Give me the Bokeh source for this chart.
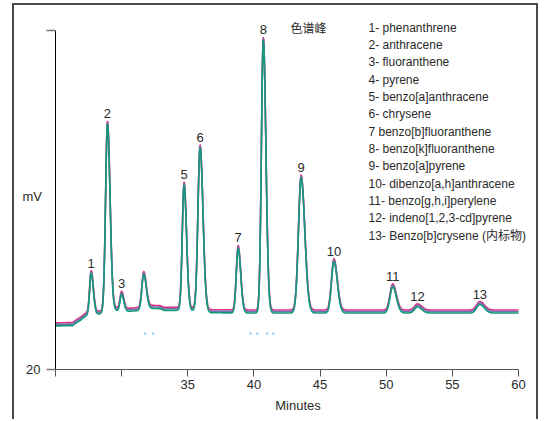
import numpy as np
from bokeh.plotting import figure
from bokeh.models import (ColumnDataSource, Label, LabelSet, FixedTicker, Range1d)
from bokeh.core.properties import value
from bokeh.embed import file_html
from bokeh.resources import INLINE

# ---------------- data ----------------
peak_numbers = ["1", "2", "3", "", "5", "6", "7", "8", "9", "10", "11", "12", "13"]
peak_times = [27.70, 28.93, 30.00, 31.67, 34.72, 35.93, 38.81, 40.71, 43.57, 46.05, 50.49, 52.37, 57.08]
peak_heights = [12.1, 55.4, 4.9, 10.2, 36.9, 48.3, 19.0, 80.4, 39.8, 15.1, 7.7, 1.8, 2.5]
peak_sigmas = [0.14, 0.17, 0.14, 0.165, 0.16, 0.19, 0.165, 0.17, 0.24, 0.22, 0.24, 0.27, 0.29]

baseline_times = [25.0, 26.3, 26.6, 26.9, 27.1, 27.35, 27.6, 28.3, 29.5, 30.5, 31.2, 32.0,
                  32.9, 33.2, 34.3, 35.3, 36.5, 40.0, 60.0]
baseline_mv = [33.3, 33.4, 34.3, 35.0, 35.7, 36.3, 36.6, 36.8, 37.8, 37.6, 37.8, 38.5,
               38.4, 37.9, 37.9, 37.8, 37.2, 37.1, 37.1]

run_offsets = [0.45, 0.0, -0.45]
run_colors = ["#e2307f", "#6a76b2", "#16987a"]

noise_times = [31.77, 32.37, 39.74, 40.26, 41.00, 41.47]
noise_mv = [30.6, 30.6, 30.6, 30.6, 30.6, 30.6]

legend_title = "色谱峰"
legend_entries = [
    "1- phenanthrene",
    "2- anthracene",
    "3- fluoranthene",
    "4- pyrene",
    "5- benzo[a]anthracene",
    "6- chrysene",
    "7 benzo[b]fluoranthene",
    "8- benzo[k]fluoranthene",
    "9- benzo[a]pyrene",
    "10- dibenzo[a,h]anthracene",
    "11- benzo[g,h,i]perylene",
    "12- indeno[1,2,3-cd]pyrene",
    "13- Benzo[b]crysene (内标物)",
]

x_ticks = [25, 30, 35, 40, 45, 50, 55, 60]
x_tick_labels = ["", "", "35", "40", "45", "50", "55", "60"]
y_ticks = [20, 120]
y_tick_labels = ["20", ""]
x_title = "Minutes"
y_title = "mV"

# ---------------- layout (page pixels) ----------------
X0, X1 = 25, 60          # bounded x axis
Y0, Y1 = 20, 120         # bounded y axis
AL, AT, AR, AB = 55, 30, 518, 369   # axis extents on the page
OX, OY = 14, 5           # canvas origin on the page (inside css border)
W, H = 526, 416
PX_X = (AR - AL) / (X1 - X0)
PX_Y = (AB - AT) / (Y1 - Y0)


def t_at(px):
    return X0 + (px - AL) / PX_X


def mv_at(py):
    return Y0 + (AB - py) / PX_Y


frame_left = AL - OX
frame_bottom = AB - OY
x_end = t_at(OX + W)
y_end = mv_at(OY)

font = "Liberation Sans"
legend_font = "Liberation Sans, Noto Sans CJK SC"
cjk = "Noto Sans CJK SC"
ink = "#2a2a2a"

p = figure(width=W, height=H, output_backend="svg", toolbar_location=None,
           x_range=Range1d(X0, x_end), y_range=Range1d(Y0, y_end),
           min_border_left=frame_left, min_border_right=0,
           min_border_top=0, min_border_bottom=H - frame_bottom)
p.styles = {"margin-left": "12px", "margin-top": "3px",
            "border-left": "2px solid #4a4a4a", "border-top": "2px solid #4a4a4a",
            "border-right": "2px solid #4a4a4a"}
p.outline_line_color = None
p.grid.visible = False
p.background_fill_color = "white"
p.border_fill_color = "white"

# traces
t = np.arange(X0, X1 + 0.0001, 0.01)
base = np.interp(t, baseline_times, baseline_mv)
signal = base.copy()
for tr, h, s in zip(peak_times, peak_heights, peak_sigmas):
    sl, sr = s * 0.85, s * 1.15
    sig = np.where(t < tr, sl, sr)
    signal += h * np.exp(-0.5 * ((t - tr) / sig) ** 2)

for off, col in zip(run_offsets, run_colors):
    p.line(t, signal + off, line_color=col, line_width=1.6, line_join="round")

p.scatter(noise_times, noise_mv, marker="square", size=2, color="#7fcff2", line_color=None)

# peak number labels
tops = [np.interp(tr, t, signal) + 0.45 for tr in peak_times]
lab_src = ColumnDataSource(dict(x=peak_times, y=tops, text=peak_numbers))
p.add_layout(LabelSet(x="x", y="y", text="text", source=lab_src, text_align="center",
                      text_baseline="bottom", y_offset=3, text_font=value(font),
                      text_font_size="13px", text_color=ink))

# legend block
p.add_layout(Label(x=t_at(290), y=mv_at(27), text=legend_title, text_font=cjk,
                   text_font_size="12px", text_baseline="middle", text_color=ink))
for i, entry in enumerate(legend_entries):
    p.add_layout(Label(x=t_at(368), y=mv_at(27 + i * 17.35), text=entry,
                       text_font=legend_font, text_font_size="12px",
                       text_baseline="middle", text_color=ink))

# axes
xa = p.xaxis[0]
xa.bounds = (X0, X1)
xa.ticker = FixedTicker(ticks=x_ticks)
xa.major_label_overrides = {k: v for k, v in zip(x_ticks, x_tick_labels)}
xa.minor_tick_line_color = None
xa.major_tick_in = 0
xa.major_tick_out = 7
xa.axis_line_color = "#555555"
xa.axis_line_width = 1.2
xa.major_tick_line_color = "#555555"
xa.major_label_text_font = font
xa.major_label_text_font_size = "13px"
xa.major_label_text_color = ink
xa.major_label_standoff = 3
xa.axis_label = x_title
xa.axis_label_text_font = font
xa.axis_label_text_font_size = "13px"
xa.axis_label_text_font_style = "normal"
xa.axis_label_text_color = ink
xa.axis_label_standoff = 6

ya = p.yaxis[0]
ya.bounds = (Y0, Y1)
ya.ticker = FixedTicker(ticks=y_ticks)
ya.major_label_overrides = {k: v for k, v in zip(y_ticks, y_tick_labels)}
ya.minor_tick_line_color = None
ya.major_tick_in = 0
ya.major_tick_out = 9
ya.axis_line_color = "black"
ya.major_tick_line_color = "#777777"
ya.major_tick_line_width = 1.5
ya.major_label_text_font = font
ya.major_label_text_font_size = "13px"
ya.major_label_text_color = ink
ya.major_label_standoff = 6
ya.axis_label = "\n" + y_title
ya.axis_label_orientation = "horizontal"
ya.axis_label_text_font = font
ya.axis_label_text_font_size = "13px"
ya.axis_label_text_font_style = "normal"
ya.axis_label_text_color = ink
ya.axis_label_standoff = -19

open("out.html", "w").write(file_html(p, INLINE))
